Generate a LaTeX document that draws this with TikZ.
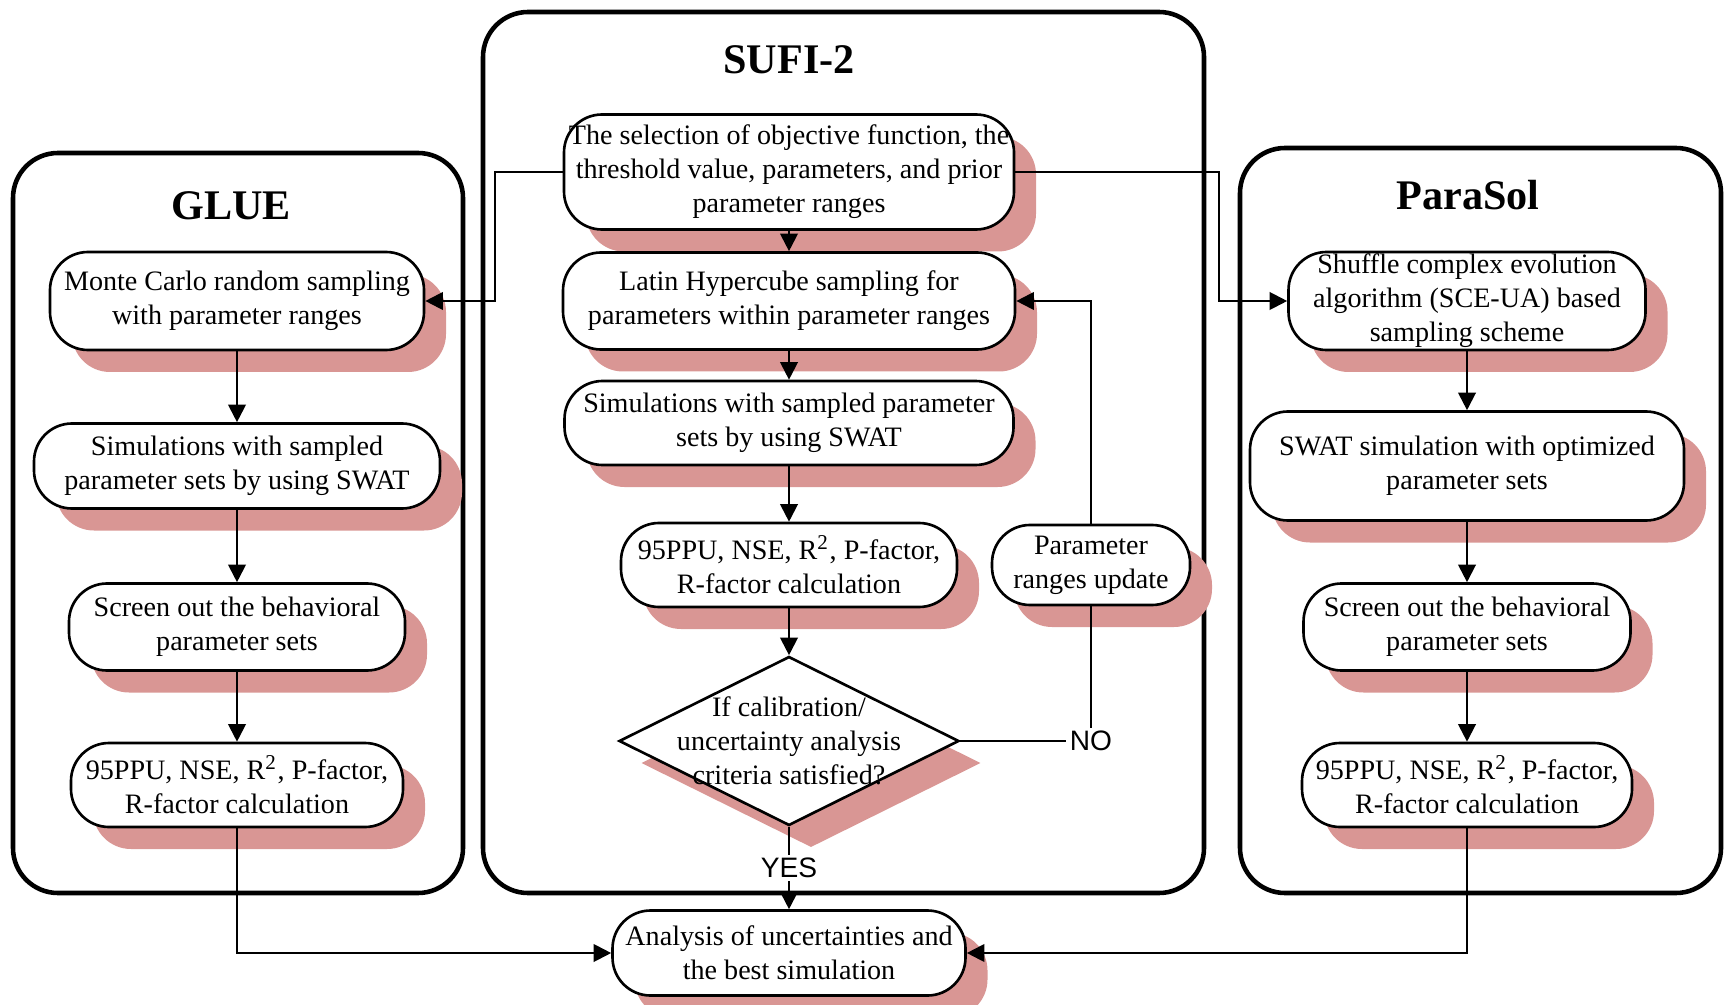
\documentclass[tikz,border=0pt]{standalone}
\usepackage{fontspec}
\setmainfont{Liberation Serif}
\newfontfamily\yesnofont{Liberation Sans}
\usetikzlibrary{shapes.geometric,shadows,arrows.meta}
\definecolor{shadowred}{RGB}{217,150,148}
\tikzset{
    frame/.style={line width=1.3pt, rounded corners=0.45cm},
    heading/.style={font=\fontsize{12}{14}\selectfont\bfseries},
    pinkshadow/.style={drop shadow={shadow xshift=0.22cm, shadow yshift=-0.22cm, fill=shadowred, opacity=1}},
    proc/.style={draw, line width=0.75pt, rounded corners=0.38cm, fill=white, align=center, inner sep=0pt, font=\fontsize{8}{9.7}\selectfont, pinkshadow},
    decision/.style={diamond, draw, line width=0.75pt, fill=white, inner sep=0pt, pinkshadow},
    yesno/.style={fill=white, inner sep=1pt, font=\fontsize{8}{9.7}\selectfont\yesnofont}
}
\begin{document}
\begin{tikzpicture}[>={Triangle[length=5pt,width=5pt]}, line width=0.6pt]
        \useasboundingbox (0,0) rectangle (17.24,-10.05);
        \draw[frame] (0.13,-1.53) rectangle (4.63,-8.93);
        \draw[frame] (4.83,-0.12) rectangle (12.04,-8.93);
        \draw[frame] (12.40,-1.48) rectangle (17.21,-8.93);
        \node[heading] (glue) at (2.31,-2.06) {GLUE};
        \node[heading] (sufi) at (7.89,-0.60) {SUFI-2};
        \node[heading] (parasol) at (14.68,-1.95) {ParaSol};

        \node[proc, minimum width=4.50cm, minimum height=1.15cm] (sel) at (7.89,-1.72) {The selection of objective function, the\\threshold value, parameters, and prior\\parameter ranges};
        \node[proc, minimum width=4.52cm, minimum height=0.97cm] (lhs) at (7.89,-3.01) {Latin Hypercube sampling for\\parameters within parameter ranges};
        \node[proc, minimum width=4.49cm, minimum height=0.84cm] (sim) at (7.89,-4.23) {Simulations with sampled parameter\\sets by using SWAT};
        \node[proc, minimum width=3.36cm, minimum height=0.84cm] (calc) at (7.89,-5.65) {95PPU, NSE, R\textsuperscript{2}, P-factor,\\R-factor calculation};
        \node[decision, minimum width=3.40cm, minimum height=1.69cm] (chk) at (7.89,-7.41) {};
        \node[align=center, font=\fontsize{8}{9.7}\selectfont] (chktext) at (chk) {If calibration/\\uncertainty analysis\\criteria satisfied?};
        \node[proc, minimum width=1.98cm, minimum height=0.80cm] (upd) at (10.91,-5.65) {Parameter\\ranges update};
        \node[proc, minimum width=3.53cm, minimum height=0.85cm] (fin) at (7.89,-9.53) {Analysis of uncertainties and\\the best simulation};

        \node[proc, minimum width=3.74cm, minimum height=0.98cm] (mc) at (2.37,-3.01) {Monte Carlo random sampling\\with parameter ranges};
        \node[proc, minimum width=4.06cm, minimum height=0.85cm] (gsim) at (2.37,-4.66) {Simulations with sampled\\parameter sets by using SWAT};
        \node[proc, minimum width=3.36cm, minimum height=0.87cm] (gscr) at (2.37,-6.27) {Screen out the behavioral\\parameter sets};
        \node[proc, minimum width=3.32cm, minimum height=0.84cm] (gcalc) at (2.37,-7.85) {95PPU, NSE, R\textsuperscript{2}, P-factor,\\R-factor calculation};

        \node[proc, minimum width=3.57cm, minimum height=0.98cm] (sce) at (14.67,-3.01) {Shuffle complex evolution\\algorithm (SCE-UA) based\\sampling scheme};
        \node[proc, minimum width=4.34cm, minimum height=1.09cm] (psim) at (14.67,-4.66) {SWAT simulation with optimized\\parameter sets};
        \node[proc, minimum width=3.27cm, minimum height=0.87cm] (pscr) at (14.67,-6.27) {Screen out the behavioral\\parameter sets};
        \node[proc, minimum width=3.30cm, minimum height=0.84cm] (pcalc) at (14.67,-7.85) {95PPU, NSE, R\textsuperscript{2}, P-factor,\\R-factor calculation};

        \draw[->] (sel.west) -- ++(-0.68,0) |- (mc.east);
        \draw[->] (sel.east) -- ++(2.04,0) |- (sce.west);
        \draw[->] (sel) -- (lhs);
        \draw[->] (lhs) -- (sim);
        \draw[->] (sim) -- (calc);
        \draw[->] (calc) -- (chk);
        \draw (chk.east) -- (chk.east -| upd) node[yesno] (no) {NO} -- (upd.south);
        \draw[->] (upd.north) |- (lhs.east);
        \draw[->] (chk.south) -- node[yesno] (yes) {YES} (fin.north);
        \draw[->] (mc) -- (gsim);
        \draw[->] (gsim) -- (gscr);
        \draw[->] (gscr) -- (gcalc);
        \draw[->] (gcalc.south) |- (fin.west);
        \draw[->] (sce) -- (psim);
        \draw[->] (psim) -- (pscr);
        \draw[->] (pscr) -- (pcalc);
        \draw[->] (pcalc.south) |- (fin.east);
    \end{tikzpicture}
\end{document}
